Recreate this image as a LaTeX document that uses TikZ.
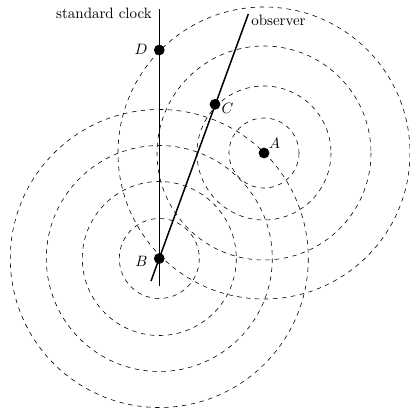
\documentclass[tikz,border=0pt]{standalone}
\begin{document}
\begin{tikzpicture}[x=0.667pt,y=-0.667pt,
  wave/.style={draw,dashed,line width=0.4pt},
  worldline/.style={draw,line width=1pt},
  event/.style={circle,fill=black,inner sep=0pt,minimum size=7.2pt},
  evlabel/.style={inner sep=0pt},
  txt/.style={inner sep=0pt}]
\useasboundingbox (0,0) rectangle (409,414);
% events
\coordinate (Ac) at (264,153);
\coordinate (Bc) at (159.3,258.5);
% wavefronts around A
\foreach \r in {35,67,107,146} \draw[wave] (Ac) circle[radius=\r];
% wavefronts around B
\foreach \r in {40,77,113,149} \draw[wave] (Bc) circle[radius=\r];
% world lines
\coordinate (sctop) at (159.3,9);
\coordinate (scbot) at (159.3,286);
\coordinate (obtop) at (248.3,14);
\coordinate (obbot) at (151,281);
\draw[worldline] (scbot) -- (sctop);
\draw[worldline] (obbot) -- (obtop);
% event dots
\node[event] (A) at (Ac) {};
\node[event] (B) at (Bc) {};
\node[event] (C) at (215,104.3) {};
\node[event] (D) at (159.3,50) {};
% labels
\node[evlabel] (Alab) at (274.5,143) {$A$};
\node[evlabel] (Blab) at (141.5,261) {$B$};
\node[evlabel] (Clab) at (227.5,108) {$C$};
\node[evlabel] (Dlab) at (141,49) {$D$};
\node[txt,anchor=east] (sclab) at (152,13.5) {standard clock};
\node[txt,anchor=west] (oblab) at (251,20.3) {observer};
\end{tikzpicture}
\end{document}
